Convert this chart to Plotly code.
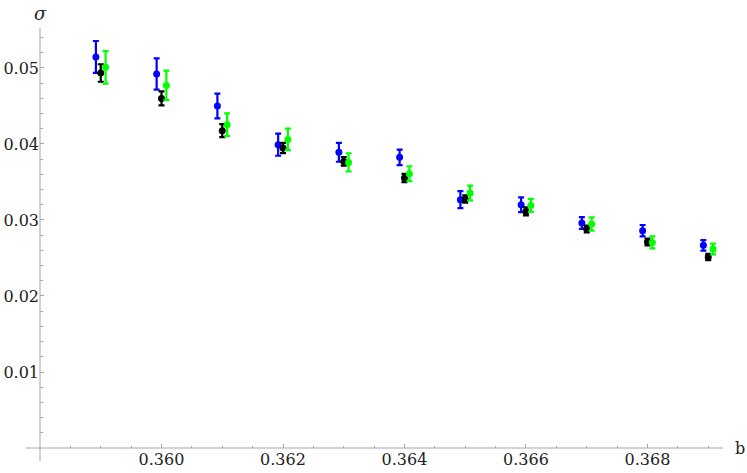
import plotly.graph_objects as go

# b values (centre of each group)
b = [0.359, 0.360, 0.361, 0.362, 0.363, 0.364, 0.365, 0.366, 0.367, 0.368, 0.369]

blue_y = [0.05145, 0.04921, 0.04500, 0.03991, 0.03890, 0.03824, 0.03267, 0.03201, 0.02960, 0.02859, 0.02666]
blue_err = [0.00210, 0.00205, 0.00162, 0.00146, 0.00124, 0.00102, 0.00112, 0.00097, 0.00077, 0.00075, 0.00070]

black_y = [0.04934, 0.04600, 0.04175, 0.03947, 0.03771, 0.03553, 0.03276, 0.03113, 0.02882, 0.02710, 0.02513]
black_err = [0.00115, 0.00093, 0.00085, 0.00067, 0.00055, 0.00054, 0.00048, 0.00052, 0.00044, 0.00044, 0.00040]

green_y = [0.05008, 0.04771, 0.04254, 0.04060, 0.03758, 0.03609, 0.03355, 0.03192, 0.02947, 0.02705, 0.02618]
green_err = [0.00215, 0.00195, 0.00150, 0.00141, 0.00120, 0.00098, 0.00097, 0.00086, 0.00087, 0.00079, 0.00070]

x_ticks = [0.360, 0.362, 0.364, 0.366, 0.368]
y_ticks = [0.01, 0.02, 0.03, 0.04, 0.05]

OFFSET = 0.00008
AXIS_COLOR = '#a6a6a6'
FONT = 'DejaVu Serif'

series = [
    ('blue', [v - OFFSET for v in b], blue_y, blue_err, '#0000ff'),
    ('black', b, black_y, black_err, '#000000'),
    ('green', [v + OFFSET for v in b], green_y, green_err, '#00ff00'),
]

fig = go.Figure()
for name, xs, ys, errs, color in series:
    fig.add_trace(go.Scatter(
        x=xs, y=ys, mode='markers', name=name,
        marker=dict(color=color, size=7),
        error_y=dict(type='data', array=errs, color=color, thickness=2.2, width=3),
        showlegend=False,
    ))

# Mathematica-style axes crossing at the origin
fig.add_shape(type='line', xref='paper', yref='paper', x0=-0.021, x1=1.0, y0=0, y1=0,
              line=dict(color=AXIS_COLOR, width=1))
fig.add_shape(type='line', xref='paper', yref='paper', x0=0, x1=0, y0=-0.031, y1=1.0,
              line=dict(color=AXIS_COLOR, width=1))

fig.add_annotation(text='b', xref='paper', yref='paper', x=1.0255, y=0, xanchor='center',
                   yanchor='middle', showarrow=False, font=dict(family=FONT, size=16, color='#222'))
fig.add_annotation(text='<i>σ</i>', xref='paper', yref='paper', x=0.0, y=1.035, xanchor='center',
                   yanchor='middle', showarrow=False, font=dict(family=FONT, size=18, color='#222'))

fig.update_layout(
    width=747, height=473,
    margin=dict(l=40, r=24, t=28, b=25),
    plot_bgcolor='white', paper_bgcolor='white',
    font=dict(family=FONT, size=16, color='#222'),
    xaxis=dict(
        range=[0.358, 0.369243], showgrid=False, zeroline=False, showline=False,
        tickvals=x_ticks, tickformat='.3f', ticks='inside', ticklen=4, tickcolor=AXIS_COLOR,
        minor=dict(dtick=0.0005, tick0=0.358, ticks='inside', ticklen=2.5, tickcolor=AXIS_COLOR),
        automargin=False,
    ),
    yaxis=dict(
        range=[0, 0.05526], showgrid=False, zeroline=False, showline=False,
        tickvals=y_ticks, tickformat='.2f', ticks='inside', ticklen=4, tickcolor=AXIS_COLOR,
        minor=dict(dtick=0.002, tick0=0, ticks='inside', ticklen=2.5, tickcolor=AXIS_COLOR),
        automargin=False,
    ),
)

# drop the default page margin so the figure sits at the window corner
fig.write_html("out.html", config={'displayModeBar': False},
               post_script="document.body.style.margin='0';")
